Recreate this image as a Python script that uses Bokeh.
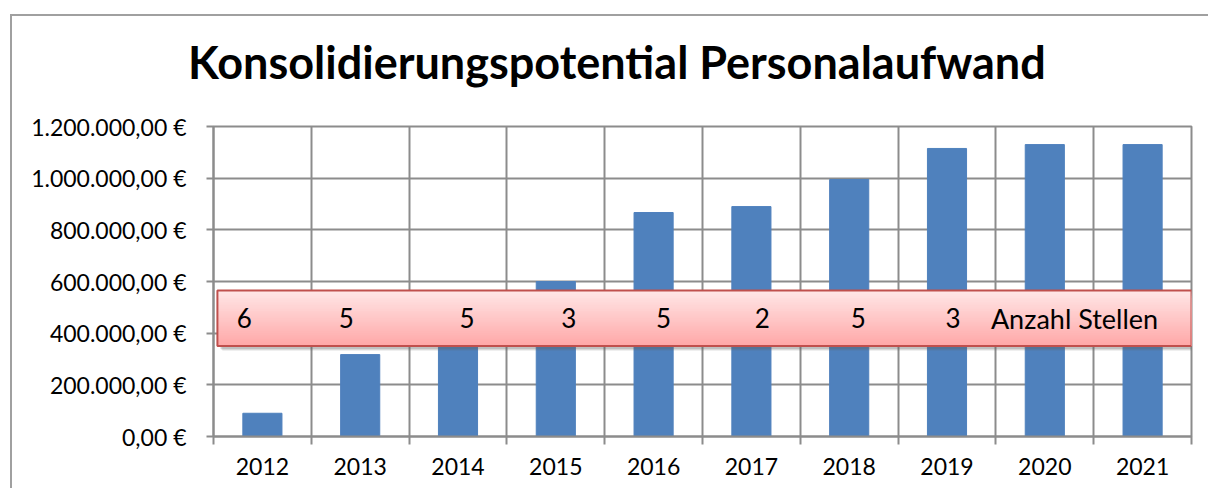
from bokeh.plotting import figure
from bokeh.layouts import column
from bokeh.models import FixedTicker, Range1d, InlineStyleSheet, Div
from bokeh.core.properties import value
from bokeh.embed import file_html
from bokeh.resources import INLINE

# ---------------- data ----------------
years = ["2012", "2013", "2014", "2015", "2016", "2017", "2018", "2019", "2020", "2021"]
aufwand = [90000, 317000, 420000, 600000, 867000, 890000, 995000, 1115000, 1130000, 1130000]
y_ticks = [0, 200000, 400000, 600000, 800000, 1000000, 1200000]
y_tick_labels = ["0,00 €", "200.000,00 €", "400.000,00 €", "600.000,00 €",
                 "800.000,00 €", "1.000.000,00 €", "1.200.000,00 €"]
stellen = [6, 5, 5, 3, 5, 2, 5, 3]
stellen_label = "Anzahl Stellen"
title_text = "Konsolidierungspotential Personalaufwand"

# ---------------- styles ----------------
FONT = "Lato"
BAR_COLOR = "#4F81BD"
GRID_COLOR = "#8C8C8C"
stellen_x_offsets = [-18, -14, 9, 13, 10, 11, 9, 6]   # pixel nudges of the typed numbers
box_y = (350000, 565000)                              # text box vertical extent (value axis)
box_x = (0.04, 10.0)
TITLE_H = 80

n = len(years)
centers = [i + 0.5 for i in range(n)]
bounds = [float(i) for i in range(n + 1)]

title_div = Div(text=title_text, width=1196, height=TITLE_H, margin=0,
                styles={"font-family": FONT, "font-size": "45px", "font-weight": "bold",
                        "color": "black", "line-height": "45px", "white-space": "nowrap",
                        "padding-top": "24px", "padding-left": "176px",
                        "box-sizing": "border-box", "background": "white"})

p = figure(width=1196, height=472 - TITLE_H, output_backend="svg", toolbar_location=None,
           x_range=Range1d(0, n), y_range=Range1d(0, 1200000),
           min_border_left=201, min_border_right=17, min_border_top=110 - TITLE_H,
           min_border_bottom=52)
p.margin = 0
p.title.text = ""

p.background_fill_color = "white"
p.border_fill_color = "white"
p.outline_line_color = GRID_COLOR
p.outline_line_width = 2

# grids
p.xgrid.ticker = FixedTicker(ticks=bounds)
p.ygrid.ticker = FixedTicker(ticks=y_ticks)
for g in (p.xgrid, p.ygrid):
    g.grid_line_color = GRID_COLOR
    g.grid_line_width = 2

# x axis: labels at centers, ticks at category boundaries
p.xaxis.ticker = FixedTicker(ticks=centers, minor_ticks=bounds)
p.xaxis.major_label_overrides = {c: y for c, y in zip(centers, years)}
p.xaxis.major_tick_out = 0
p.xaxis.major_tick_in = 0
p.xaxis.minor_tick_out = 8
p.xaxis.minor_tick_in = 0
p.xaxis.minor_tick_line_color = GRID_COLOR
p.xaxis.minor_tick_line_width = 2
p.xaxis.major_label_standoff = 13

# y axis
p.yaxis.ticker = FixedTicker(ticks=y_ticks)
p.yaxis.major_label_overrides = {t: l for t, l in zip(y_ticks, y_tick_labels)}
p.yaxis.major_tick_out = 7
p.yaxis.major_tick_in = 0
p.yaxis.minor_tick_line_color = None
p.yaxis.major_tick_line_color = GRID_COLOR
p.yaxis.major_tick_line_width = 2
p.yaxis.major_label_standoff = 20

for ax in (p.xaxis, p.yaxis):
    ax.axis_line_color = GRID_COLOR
    ax.axis_line_width = 2
    ax.major_label_text_font = FONT
    ax.major_label_text_font_size = "23px"
    ax.major_label_text_color = "black"

# bars
p.vbar(x=centers, top=aufwand, width=0.4, fill_color=BAR_COLOR, line_color=BAR_COLOR)

# text box: soft shadow, gradient fill, border
px_y = 1200000 / 310.0
px_x = n / 978.0
for s, a in ((5, 0.10), (4, 0.15), (3, 0.2)):
    p.quad(left=[box_x[0] + s * px_x], right=[box_x[1] + s * px_x],
           bottom=[box_y[0] - s * px_y], top=[box_y[1] - s * px_y],
           fill_color="#606060", fill_alpha=a, line_color=None)
steps = 30
top_rgb = (255, 230, 230)
bot_rgb = (255, 168, 168)
for k in range(steps):
    f = k / (steps - 1)
    col = tuple(int(round(a + (b - a) * f)) for a, b in zip(top_rgb, bot_rgb))
    y1 = box_y[1] - (box_y[1] - box_y[0]) * k / steps
    # each strip reaches down to the box bottom, so no seams show
    p.quad(left=[box_x[0]], right=[box_x[1]], bottom=[box_y[0]], top=[y1],
           fill_color="#%02X%02X%02X" % col, fill_alpha=1.0, line_color=None)
p.quad(left=[box_x[0]], right=[box_x[1]], bottom=[box_y[0]], top=[box_y[1]],
       fill_color=None, line_color="#C0504D", line_width=2)

text_y = (box_y[0] + box_y[1]) / 2
p.text(x=centers[:len(stellen)], y=[text_y] * len(stellen), text=[str(s) for s in stellen],
       x_offset=stellen_x_offsets, text_align="center", text_baseline="middle",
       text_font=value(FONT), text_font_size="26px", text_color="black")
p.text(x=[bounds[len(stellen)]], y=[text_y], text=[stellen_label], x_offset=-5,
       text_align="left", text_baseline="middle",
       text_font=value(FONT), text_font_size="27px", text_color="black")

layout = column(title_div, p, spacing=0)
layout.margin = (14, 0, 0, 10)
layout.stylesheets = [InlineStyleSheet(css=":host { border-left: 2px solid #A0A0A0; border-top: 2px solid #A0A0A0; background: white; }")]

open("out.html", "w").write(file_html(layout, INLINE))
